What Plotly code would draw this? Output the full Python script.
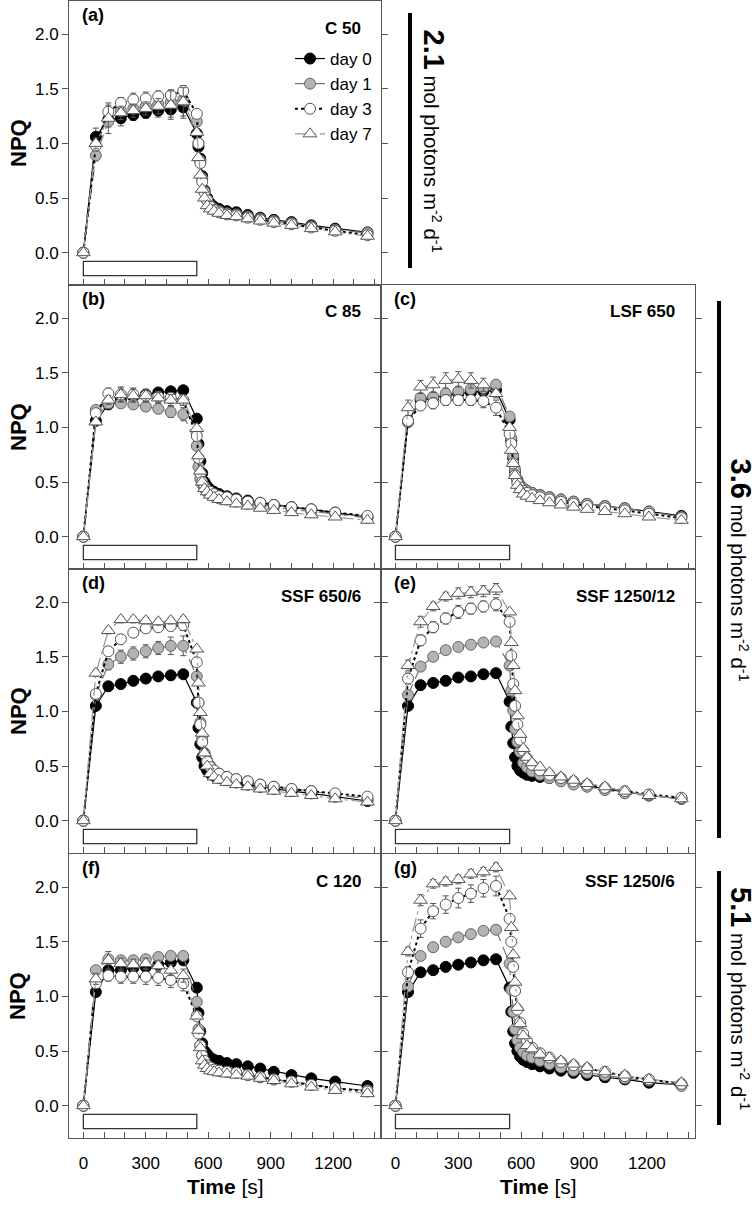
import plotly.graph_objects as go

# ---------------- data ----------------
TIME = [0, 60, 120, 180, 240, 300, 360, 420, 480,
        545, 553, 562, 571, 582, 595, 610, 628, 652, 690, 735, 790, 850, 915, 1000, 1095, 1210, 1365]
LIGHT_PERIOD = [0, 545]
DAYS = ["day 0", "day 1", "day 3", "day 7"]
X_TICKS = [0, 300, 600, 900, 1200]
Y_TICKS = [0.0, 0.5, 1.0, 1.5, 2.0]
Y_TICKTEXT = ["0.0", "0.5", "1.0", "1.5", "2.0"]

# (a) C 50
a_d0 = [0, 1.06, 1.22, 1.23, 1.26, 1.28, 1.30, 1.31, 1.33, 1.09, 0.97, 0.86, 0.70, 0.57, 0.50, 0.45, 0.42, 0.40, 0.38, 0.37, 0.345, 0.32, 0.30, 0.28, 0.25, 0.22, 0.185]
a_d1 = [0, 0.89, 1.20, 1.30, 1.32, 1.34, 1.36, 1.38, 1.40, 1.20, 1.00, 0.84, 0.68, 0.56, 0.48, 0.43, 0.40, 0.38, 0.36, 0.35, 0.33, 0.31, 0.29, 0.27, 0.24, 0.21, 0.18]
a_d3 = [0, 0.98, 1.29, 1.37, 1.40, 1.41, 1.43, 1.44, 1.48, 1.27, 1.00, 0.82, 0.65, 0.55, 0.48, 0.42, 0.39, 0.37, 0.35, 0.34, 0.32, 0.30, 0.28, 0.26, 0.23, 0.20, 0.16]
a_d7 = [0, 1.00, 1.23, 1.28, 1.30, 1.32, 1.34, 1.35, 1.38, 1.10, 0.87, 0.71, 0.58, 0.50, 0.43, 0.40, 0.38, 0.36, 0.34, 0.33, 0.31, 0.29, 0.27, 0.25, 0.22, 0.19, 0.15]
# (b) C 85
b_d0 = [0, 1.06, 1.21, 1.25, 1.28, 1.30, 1.32, 1.33, 1.34, 1.08, 0.85, 0.69, 0.58, 0.50, 0.46, 0.43, 0.41, 0.39, 0.37, 0.35, 0.33, 0.31, 0.29, 0.27, 0.25, 0.22, 0.18]
b_d1 = [0, 1.16, 1.22, 1.22, 1.21, 1.19, 1.17, 1.14, 1.12, 0.83, 0.64, 0.53, 0.48, 0.44, 0.41, 0.39, 0.37, 0.35, 0.34, 0.32, 0.30, 0.29, 0.27, 0.25, 0.23, 0.21, 0.17]
b_d3 = [0, 1.13, 1.31, 1.30, 1.30, 1.29, 1.28, 1.27, 1.25, 0.92, 0.72, 0.58, 0.50, 0.46, 0.43, 0.41, 0.39, 0.37, 0.36, 0.34, 0.32, 0.31, 0.29, 0.27, 0.25, 0.22, 0.19]
b_d7 = [0, 1.05, 1.25, 1.30, 1.29, 1.29, 1.27, 1.25, 1.25, 0.99, 0.74, 0.60, 0.50, 0.44, 0.41, 0.38, 0.36, 0.34, 0.32, 0.30, 0.28, 0.26, 0.24, 0.22, 0.20, 0.18, 0.15]
# (c) LSF 650
c_d0 = [0, 1.05, 1.25, 1.27, 1.29, 1.31, 1.32, 1.33, 1.34, 1.07, 0.88, 0.72, 0.60, 0.52, 0.47, 0.44, 0.42, 0.40, 0.38, 0.36, 0.34, 0.32, 0.30, 0.28, 0.26, 0.23, 0.19]
c_d1 = [0, 1.05, 1.27, 1.28, 1.31, 1.33, 1.35, 1.36, 1.39, 1.10, 0.90, 0.74, 0.61, 0.52, 0.47, 0.44, 0.42, 0.40, 0.38, 0.36, 0.34, 0.32, 0.30, 0.28, 0.26, 0.23, 0.18]
c_d3 = [0, 1.06, 1.20, 1.22, 1.25, 1.25, 1.25, 1.24, 1.18, 0.94, 0.85, 0.67, 0.56, 0.49, 0.45, 0.42, 0.40, 0.38, 0.36, 0.34, 0.32, 0.30, 0.28, 0.26, 0.24, 0.21, 0.17]
c_d7 = [0, 1.18, 1.37, 1.39, 1.43, 1.44, 1.43, 1.39, 1.31, 1.00, 0.79, 0.67, 0.56, 0.47, 0.43, 0.39, 0.37, 0.35, 0.33, 0.31, 0.29, 0.27, 0.25, 0.23, 0.21, 0.18, 0.15]
# (d) SSF 650/6
d_d0 = [0, 1.05, 1.23, 1.25, 1.28, 1.30, 1.32, 1.33, 1.34, 1.08, 0.85, 0.70, 0.58, 0.50, 0.46, 0.43, 0.41, 0.39, 0.37, 0.35, 0.33, 0.31, 0.29, 0.27, 0.25, 0.22, 0.18]
d_d1 = [0, 1.15, 1.43, 1.50, 1.53, 1.55, 1.58, 1.60, 1.60, 1.32, 1.08, 0.90, 0.75, 0.62, 0.55, 0.50, 0.46, 0.43, 0.40, 0.38, 0.36, 0.33, 0.31, 0.29, 0.27, 0.24, 0.20]
d_d3 = [0, 1.16, 1.55, 1.66, 1.72, 1.76, 1.77, 1.78, 1.79, 1.45, 1.08, 0.88, 0.72, 0.61, 0.54, 0.49, 0.46, 0.43, 0.40, 0.38, 0.36, 0.33, 0.31, 0.29, 0.27, 0.25, 0.22]
d_d7 = [0, 1.35, 1.74, 1.84, 1.84, 1.83, 1.82, 1.83, 1.84, 1.57, 1.26, 0.99, 0.80, 0.62, 0.50, 0.43, 0.40, 0.37, 0.35, 0.33, 0.31, 0.29, 0.27, 0.25, 0.23, 0.20, 0.17]
# (e) SSF 1250/12
e_d0 = [0, 1.05, 1.24, 1.26, 1.28, 1.31, 1.32, 1.34, 1.35, 1.09, 0.86, 0.71, 0.58, 0.50, 0.46, 0.44, 0.42, 0.41, 0.40, 0.39, 0.37, 0.35, 0.32, 0.29, 0.26, 0.23, 0.20]
e_d1 = [0, 1.15, 1.41, 1.50, 1.56, 1.59, 1.61, 1.63, 1.64, 1.42, 1.19, 1.01, 0.84, 0.72, 0.63, 0.53, 0.49, 0.45, 0.42, 0.39, 0.36, 0.33, 0.31, 0.28, 0.25, 0.23, 0.20]
e_d3 = [0, 1.30, 1.65, 1.77, 1.85, 1.91, 1.94, 1.96, 1.98, 1.82, 1.51, 1.25, 1.05, 0.88, 0.74, 0.64, 0.57, 0.51, 0.46, 0.42, 0.39, 0.36, 0.33, 0.30, 0.27, 0.24, 0.21]
e_d7 = [0, 1.42, 1.82, 1.96, 2.05, 2.08, 2.09, 2.10, 2.12, 1.91, 1.63, 1.42, 1.19, 0.96, 0.79, 0.66, 0.58, 0.53, 0.49, 0.44, 0.40, 0.37, 0.34, 0.31, 0.27, 0.23, 0.20]
# (f) C 120
f_d0 = [0, 1.04, 1.24, 1.24, 1.26, 1.27, 1.29, 1.31, 1.33, 1.08, 0.85, 0.68, 0.57, 0.50, 0.47, 0.44, 0.42, 0.41, 0.39, 0.38, 0.36, 0.34, 0.31, 0.28, 0.25, 0.22, 0.18]
f_d1 = [0, 1.24, 1.34, 1.33, 1.33, 1.34, 1.36, 1.37, 1.37, 0.95, 0.70, 0.55, 0.46, 0.40, 0.36, 0.34, 0.33, 0.32, 0.31, 0.30, 0.28, 0.26, 0.24, 0.22, 0.19, 0.16, 0.14]
f_d3 = [0, 1.12, 1.19, 1.18, 1.18, 1.18, 1.17, 1.15, 1.12, 0.82, 0.66, 0.55, 0.46, 0.41, 0.37, 0.35, 0.33, 0.32, 0.31, 0.30, 0.28, 0.26, 0.24, 0.22, 0.19, 0.16, 0.13]
f_d7 = [0, 1.16, 1.33, 1.30, 1.29, 1.30, 1.28, 1.24, 1.19, 0.82, 0.69, 0.53, 0.41, 0.37, 0.34, 0.32, 0.31, 0.30, 0.29, 0.28, 0.27, 0.25, 0.23, 0.20, 0.17, 0.14, 0.11]
# (g) SSF 1250/6
g_d0 = [0, 1.04, 1.22, 1.24, 1.27, 1.29, 1.31, 1.33, 1.34, 1.08, 0.86, 0.68, 0.57, 0.50, 0.45, 0.42, 0.40, 0.38, 0.36, 0.34, 0.32, 0.30, 0.28, 0.26, 0.24, 0.21, 0.19]
g_d1 = [0, 1.09, 1.37, 1.45, 1.50, 1.54, 1.57, 1.60, 1.61, 1.30, 1.06, 0.86, 0.70, 0.60, 0.53, 0.49, 0.46, 0.44, 0.41, 0.38, 0.35, 0.32, 0.30, 0.28, 0.25, 0.23, 0.18]
g_d3 = [0, 1.22, 1.62, 1.78, 1.84, 1.90, 1.94, 1.99, 2.01, 1.71, 1.50, 1.27, 1.05, 0.88, 0.76, 0.66, 0.59, 0.53, 0.48, 0.44, 0.40, 0.37, 0.34, 0.31, 0.27, 0.24, 0.20]
g_d7 = [0, 1.41, 1.88, 2.03, 2.05, 2.07, 2.12, 2.14, 2.18, 1.92, 1.63, 1.38, 1.13, 0.90, 0.75, 0.64, 0.55, 0.52, 0.47, 0.44, 0.41, 0.38, 0.35, 0.31, 0.28, 0.24, 0.21]

# standard errors during the light period (first 9 points)
a_err = [[0, .08, .06, .07, .05, .05, .06, .07, .10], [0, .05, .05, .05, .05, .05, .05, .05, .05],
         [0, .05, .06, .05, .06, .06, .05, .05, .05], [0, .05, .14, .06, .06, .06, .07, .13, .13]]
b_err = [[0, .03, .03, .03, .03, .03, .03, .03, .03], [0, .03, .04, .04, .04, .04, .04, .05, .06],
         [0, .03, .05, .06, .06, .05, .05, .05, .05], [0, .03, .04, .07, .06, .06, .05, .05, .05]]
c_err = [[0, .03, .04, .04, .04, .04, .04, .04, .04], [0, .03, .04, .04, .04, .04, .04, .04, .04],
         [0, .04, .04, .05, .05, .05, .05, .06, .07], [0, .07, .06, .07, .07, .07, .07, .06, .04]]
d_err = [[0, .02, .02, .02, .02, .02, .02, .02, .02], [0, .03, .05, .06, .06, .06, .06, .08, .09],
         [0, .03, .04, .04, .04, .04, .04, .04, .05], [0, .03, .03, .03, .03, .03, .03, .03, .03]]
e_err = [[0, .02, .02, .02, .02, .02, .02, .02, .02], [0, .02, .03, .03, .03, .03, .03, .03, .03],
         [0, .05, .05, .05, .05, .06, .05, .05, .06], [0, .05, .05, .04, .04, .05, .05, .05, .05]]
f_err = [[0, .03, .03, .03, .03, .03, .03, .03, .03], [0, .03, .03, .03, .03, .03, .03, .03, .03],
         [0, .05, .05, .06, .06, .07, .07, .07, .07], [0, .05, .08, .05, .05, .05, .05, .05, .06]]
g_err = [[0, .02, .02, .02, .02, .02, .02, .02, .02], [0, .02, .02, .02, .02, .02, .02, .02, .02],
         [0, .05, .08, .07, .08, .09, .08, .08, .09], [0, .04, .05, .04, .04, .04, .04, .04, .04]]

PANELS = [
    ("(a)", "C 50", [a_d0, a_d1, a_d3, a_d7], a_err),
    ("(b)", "C 85", [b_d0, b_d1, b_d3, b_d7], b_err),
    ("(c)", "LSF 650", [c_d0, c_d1, c_d3, c_d7], c_err),
    ("(d)", "SSF 650/6", [d_d0, d_d1, d_d3, d_d7], d_err),
    ("(e)", "SSF 1250/12", [e_d0, e_d1, e_d3, e_d7], e_err),
    ("(f)", "C 120", [f_d0, f_d1, f_d3, f_d7], f_err),
    ("(g)", "SSF 1250/6", [g_d0, g_d1, g_d3, g_d7], g_err),
]

# ---------------- layout geometry (pixels) ----------------
W, H = 756, 1205
COLS = [(69, 381), (381, 695)]
ROW_TOP = [1, 285, 569, 854]
ROW_H = 284
POS = [(0, 0), (0, 1), (1, 1), (0, 2), (1, 2), (0, 3), (1, 3)]
XR = [-69, 1430]
YR = [-0.296, 2.303]

FONT = "Arial, Liberation Sans, sans-serif"

STYLES = [
    dict(line=dict(color="black", width=1.2, dash="solid"),
         marker=dict(symbol="circle", size=11, color="black", line=dict(color="black", width=1))),
    dict(line=dict(color="#777777", width=1.2, dash="12px,6px"),
         marker=dict(symbol="circle", size=11, color="#b3b3b3", line=dict(color="#666666", width=1))),
    dict(line=dict(color="black", width=2, dash="dot"),
         marker=dict(symbol="circle", size=11, color="white", line=dict(color="#555555", width=1))),
    dict(line=dict(color="#999999", width=1.2, dash="14px,4px,3px,4px"),
         marker=dict(symbol="triangle-up", size=12, color="white", line=dict(color="#555555", width=1))),
]

fig = go.Figure()
layout = {}
annotations = []
shapes = []

def px_x(p):
    return p / W

def px_y(p):
    return 1 - p / H

for i, (lab, title, series, errs) in enumerate(PANELS):
    n = i + 1
    col, row = POS[i]
    x0, x1 = COLS[col]
    ytop = ROW_TOP[row]
    xa = "xaxis" if n == 1 else f"xaxis{n}"
    ya = "yaxis" if n == 1 else f"yaxis{n}"
    xref = "x" if n == 1 else f"x{n}"
    yref = "y" if n == 1 else f"y{n}"
    bottom = row == 3
    layout[xa] = dict(
        domain=[px_x(x0), px_x(x1)], range=XR, anchor=yref, automargin=False,
        tickmode="array", tickvals=X_TICKS, showticklabels=bottom,
        ticks="inside", ticklen=6, tickwidth=1, tickcolor="#555555",
        minor=dict(dtick=100, tick0=0, ticks="inside", ticklen=6, tickwidth=1, tickcolor="#555555"),
        showline=True, linecolor="#555555", linewidth=1, mirror=True,
        showgrid=False, zeroline=False,
        tickfont=dict(family=FONT, size=17, color="black"), ticklabelstandoff=10,
    )
    layout[ya] = dict(
        domain=[px_y(ytop + ROW_H), px_y(ytop)], range=YR, anchor=xref, automargin=False,
        tickmode="array", tickvals=Y_TICKS, ticktext=Y_TICKTEXT, showticklabels=(col == 0),
        ticks="outside", ticklen=6, tickwidth=1, tickcolor="#555555",
        showline=True, linecolor="#555555", linewidth=1, mirror="ticks",
        showgrid=False, zeroline=False,
        tickfont=dict(family=FONT, size=17, color="black"),
    )
    shapes.append(dict(type="rect", xref=xref, yref=yref, x0=LIGHT_PERIOD[0], x1=LIGHT_PERIOD[1],
                       y0=-0.21, y1=-0.08, line=dict(color="#333333", width=1.3), fillcolor="white"))
    for k, (vals, name) in enumerate(zip(series, DAYS)):
        err = list(errs[k]) + [0] * (len(TIME) - len(errs[k]))
        st = STYLES[k]
        fig.add_trace(go.Scatter(
            x=TIME, y=vals, mode="lines+markers", name=name, xaxis=xref, yaxis=yref,
            line=st["line"], marker=st["marker"], showlegend=(n == 1), legendgroup=name,
            error_y=dict(type="data", array=err, visible=True, color="#555555", thickness=1, width=3),
        ))
    annotations.append(dict(text=f"<b>{lab}</b>", xref="paper", yref="paper", x=px_x(x0 + 11),
                            y=px_y(ytop + 14), xanchor="left", yanchor="middle", showarrow=False,
                            font=dict(family=FONT, size=18, color="black")))
    annotations.append(dict(text=f"<b>{title}</b>", xref="paper", yref="paper", x=px_x(x1 - 18),
                            y=px_y(ytop + 27), xanchor="right", yanchor="middle", showarrow=False,
                            font=dict(family=FONT, size=17, color="black")))

for r in range(4):
    annotations.append(dict(text="<b>NPQ</b>", xref="paper", yref="paper", x=px_x(18),
                            y=px_y(ROW_TOP[r] + 142), textangle=-90, showarrow=False,
                            xanchor="center", yanchor="middle",
                            font=dict(family=FONT, size=22, color="black")))
for c in range(2):
    annotations.append(dict(text="<b>Time</b> [s]", xref="paper", yref="paper",
                            x=px_x((COLS[c][0] + COLS[c][1]) / 2), y=px_y(1186), showarrow=False,
                            xanchor="center", yanchor="middle",
                            font=dict(family=FONT, size=21, color="black")))

DOSES = [("2.1", 410, 13, 268, 434), ("3.6", 719, 301, 838, 741), ("5.1", 719, 871, 1125, 741)]
for dose, bx, by0, by1, tx in DOSES:
    shapes.append(dict(type="line", xref="paper", yref="paper", x0=px_x(bx), x1=px_x(bx),
                       y0=px_y(by0), y1=px_y(by1), line=dict(color="black", width=4)))
    annotations.append(dict(
        text=f"<b><span style='font-size:29px'>{dose}</span></b> mol photons m<sup>-2</sup> d<sup>-1</sup>",
        xref="paper", yref="paper", x=px_x(tx), y=px_y((by0 + by1) / 2), textangle=90,
        showarrow=False, xanchor="center", yanchor="middle",
        font=dict(family=FONT, size=20.5, color="black")))

fig.update_layout(
    width=W, height=H, margin=dict(l=0, r=0, t=0, b=0, autoexpand=False),
    paper_bgcolor="white", plot_bgcolor="white",
    annotations=annotations, shapes=shapes,
    legend=dict(x=px_x(290), y=px_y(41), xanchor="left", yanchor="top",
                bgcolor="rgba(0,0,0,0)", font=dict(family=FONT, size=17, color="black"),
                tracegroupgap=0, itemwidth=30),
    showlegend=True,
    **layout,
)

fig.write_html("out.html", config={"displayModeBar": False},
               post_script="document.body.style.margin='0';document.body.style.overflow='hidden';")
